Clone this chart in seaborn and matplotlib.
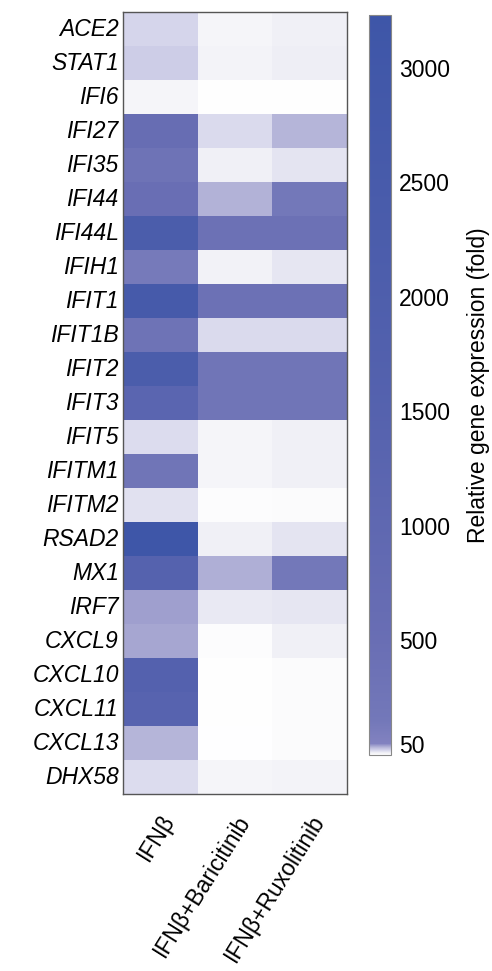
import numpy as np
import pandas as pd
import matplotlib
matplotlib.use("Agg")
import matplotlib.pyplot as plt
from matplotlib.colors import LinearSegmentedColormap
import seaborn as sns

# Genes (rows) and treatments (columns)
genes = ["ACE2", "STAT1", "IFI6", "IFI27", "IFI35", "IFI44", "IFI44L", "IFIH1",
         "IFIT1", "IFIT1B", "IFIT2", "IFIT3", "IFIT5", "IFITM1", "IFITM2", "RSAD2",
         "MX1", "IRF7", "CXCL9", "CXCL10", "CXCL11", "CXCL13", "DHX58"]
treatments = ["IFNβ", "IFNβ+Baricitinib", "IFNβ+Ruxolitinib"]

# Relative gene expression (fold) per treatment
ifnb = [21, 24, 7, 600, 330, 500, 2250, 130, 2630, 330, 2250, 1250, 18, 260,
        16, 3230, 1500, 41, 39, 1600, 1400, 34, 18]
ifnb_baricitinib = [7, 8, 1, 19, 10, 35, 400, 9, 400, 19, 260, 260, 7, 7,
                    2, 10, 36, 13, 2, 1, 1, 0.5, 7]
ifnb_ruxolitinib = [10, 11, 1, 34, 15, 150, 400, 14, 400, 19, 260, 260, 10, 10,
                    3, 15, 150, 14, 10, 3, 3, 3, 8]

cbar_ticks = [50, 500, 1000, 1500, 2000, 2500, 3000]
vmin, vmax = 0, 3230

# Colour ramp: white -> lavender -> blue, steep at the low end
ramp_values = [0, 10, 20, 35, 50, 150, 500, 1500, 3230]
ramp_colors = ["#ffffff", "#f0f0f6", "#d7d7ec", "#b2b2d7", "#8282c0",
               "#7378b9", "#696eb4", "#5562ae", "#3e56a8"]
cmap = LinearSegmentedColormap.from_list(
    "ifn_blue",
    [((v - vmin) / (vmax - vmin), c) for v, c in zip(ramp_values, ramp_colors)],
    N=16384)

df = pd.DataFrame({treatments[0]: ifnb,
                   treatments[1]: ifnb_baricitinib,
                   treatments[2]: ifnb_ruxolitinib}, index=genes)

sns.set_style("white")
plt.rcParams["font.family"] = ["Liberation Sans", "DejaVu Sans"]
plt.rcParams["text.color"] = "black"
plt.rcParams["xtick.color"] = "black"
plt.rcParams["ytick.color"] = "black"
plt.rcParams["axes.labelcolor"] = "black"
fs = 16.5

W, H = 492, 971
fig = plt.figure(figsize=(W / 100, H / 100), dpi=100)
ax = fig.add_axes([123 / W, 1 - 794 / H, (347 - 123) / W, (794 - 12) / H])
cax = fig.add_axes([369 / W, 1 - 755 / H, (391 - 369) / W, (755 - 15) / H])

sns.heatmap(df, ax=ax, cbar_ax=cax, cmap=cmap, vmin=vmin, vmax=vmax,
            linewidths=0, cbar_kws={"ticks": cbar_ticks})

# frame around the heatmap
for s in ax.spines.values():
    s.set_visible(True)
    s.set_color("#555555")
    s.set_linewidth(1.0)

ax.tick_params(axis="both", length=0)
ax.set_yticklabels(genes, rotation=0, fontsize=fs, fontstyle="italic",
                   color="black")
ax.set_xticklabels(treatments, rotation=58, ha="right", rotation_mode="anchor",
                   fontsize=fs, color="black")
ax.tick_params(axis="x", pad=12)
ax.tick_params(axis="y", pad=3)
ax.set_xlabel("")
ax.set_ylabel("")

cbar = ax.collections[0].colorbar
cbar.outline.set_visible(True)
cbar.outline.set_edgecolor("#888888")
cbar.outline.set_linewidth(0.8)
cax.tick_params(direction="in", length=3, width=0.8, color="#3e56a8",
                left=True, right=True, labelsize=fs, labelcolor="black", pad=6)
cbar.set_label("Relative gene expression (fold)", fontsize=fs, labelpad=12,
               color="black")

fig.savefig("out.png", dpi=100)
